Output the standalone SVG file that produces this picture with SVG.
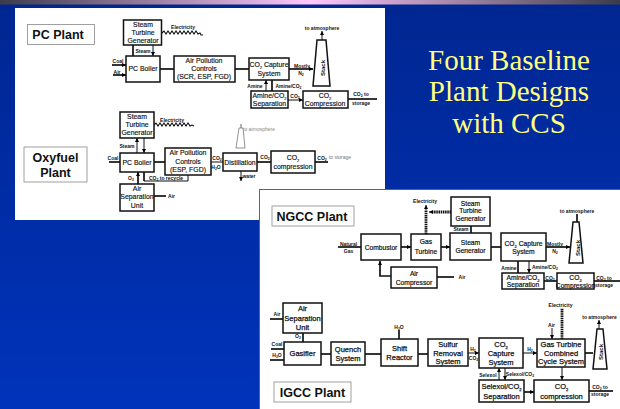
<svg xmlns="http://www.w3.org/2000/svg" width="620" height="409" viewBox="0 0 620 409">
<defs>
<linearGradient id="bg" x1="0" y1="0" x2="0" y2="1"><stop offset="0" stop-color="#002691"/><stop offset="1" stop-color="#0033bb"/></linearGradient>
<linearGradient id="strip" x1="0" y1="0" x2="1" y2="0"><stop offset="0" stop-color="#3b3b4a"/><stop offset="0.5" stop-color="#ffc8fa"/><stop offset="1" stop-color="#3b3b4a"/></linearGradient>
<marker id="a" markerWidth="5" markerHeight="5" refX="4" refY="2.5" orient="auto" markerUnits="userSpaceOnUse"><path d="M0 0.5L4 2.5L0 4.5z" fill="#000"/></marker>
</defs>
<style>
text{font-family:"Liberation Sans",Arial,sans-serif;fill:#111;text-anchor:middle}
.b{fill:#fff;stroke:#111;stroke-width:1.5}
.t{fill:#fff;stroke:#888;stroke-width:.8}
.s{font-size:6.9px;stroke:#111;stroke-width:.15}
.n{font-size:6.7px;stroke:#111;stroke-width:.2}
.i{font-size:7.5px;stroke:#111;stroke-width:.25}
.k5{font-size:6px;font-weight:bold}
.xs{font-size:5px;font-weight:bold}
.h{font-size:12.500px;font-weight:bold}
.c{fill:none;stroke:#111;stroke-width:1}
.k{fill:none;stroke:#111;stroke-width:1.7}
.w{fill:none;stroke:#111;stroke-width:1.1}
.d{fill:none;stroke:#111;stroke-width:2.800;stroke-dasharray:1.500 .7}
.y{font-family:"Liberation Serif","Times New Roman",serif;font-size:29px;fill:#ffff80}
</style>
<rect width="620" height="409" fill="url(#bg)"/>
<rect width="620" height="4.500" fill="url(#strip)"/>
<rect x="15" y="8" width="370" height="212" fill="#fff"/>
<rect x="259.500" y="189.500" width="361" height="220" fill="#fff" stroke="#3d62d8"/>

<g id="connectors">
<!-- PC -->
<path class="w" d="M162 33l2-2 2 3 2-3 2 3 2-3 2 3 2-3 2 3 2-3 2 3 2-3 2 3 2-3 2 3 2-3 2 3 2-3 2 3 2-1 1 2h2"/>
<path class="k" d="M133 45V56"/><path class="c" marker-end="url(#a)" d="M153 45V56"/>
<path class="k" marker-end="url(#a)" d="M112 65H126"/><path class="k" marker-end="url(#a)" d="M113 75H126"/>
<path class="k" d="M160 69H174"/><path class="k" d="M235 69H249"/>
<path class="k" marker-end="url(#a)" d="M289 69H313"/>
<path class="c" marker-end="url(#a)" d="M266 91V80"/><path class="k" d="M272 80V91"/>
<path class="c" marker-end="url(#a)" d="M288 100H303"/>
<path class="k" d="M348 99H377"/>
<path class="c" marker-end="url(#a)" d="M322 40V31"/>
<!-- Oxyfuel -->
<path class="w" d="M154 125l2-2 2 3 2-3 2 3 2-3 2 3 2-3 2 3 2-3 2 3 2-3 2 3 2-3 2 3 2-3 2 3 2-3 2 3 2 -1 2 1"/>
<path class="c" marker-end="url(#a)" d="M137 153V138"/><path class="c" marker-end="url(#a)" d="M144 138V153"/>
<path class="k" d="M109 162H120"/>
<path class="k" d="M154 162H165"/>
<path class="c" d="M211 162H223"/>
<path class="k" d="M257 162H271"/><path class="k" d="M315 162H328"/>
<path class="k" marker-end="url(#a)" d="M138 184V172"/>
<path class="k" d="M144 172V181"/><path class="c" d="M144 181H188V175"/>
<path class="k" d="M154 196H166"/>
<path class="c" marker-end="url(#a)" d="M241 171V181"/>
<path d="M241 148V124" fill="none" stroke="#555" stroke-width=".9"/>
<!-- NGCC -->
<path class="k" d="M338 247H361"/>
<path class="k" marker-end="url(#a)" d="M401 247H411"/><path class="k" marker-end="url(#a)" d="M441 247H450"/>
<path class="d" d="M426 234V210"/>
<path class="c" marker-end="url(#a)" d="M426 210V205"/>
<path class="d" d="M451 212H433"/>
<path class="c" marker-end="url(#a)" d="M433 212H429"/>
<path class="k" d="M471 226V233"/>
<path class="k" d="M491 247H501"/>
<path class="k" marker-end="url(#a)" d="M391 276H380V261"/>
<path class="k" d="M437 277H454"/>
<path class="k" marker-end="url(#a)" d="M546 247H570"/>
<path class="k" d="M518 261V273"/>
<path class="c" marker-end="url(#a)" d="M529 261V273"/>
<path class="k" d="M544 281H557"/>
<path class="k" d="M594 281H620"/>
<path class="k" d="M577 222V214"/>
<!-- IGCC -->
<path class="k" d="M270 319H283"/>
<path class="k" d="M303 333V342"/>
<path class="k" d="M271 349H284"/><path class="k" d="M270 360H284"/>
<path class="k" d="M321 354H331"/><path class="k" d="M365 354H381"/><path class="k" d="M418 354H428"/>
<path class="k" d="M399 339V330"/>
<path class="c" marker-end="url(#a)" d="M468 353H479"/>
<path class="c" marker-end="url(#a)" d="M523 353H537"/>
<path class="k" d="M585 353H593"/>
<path class="c" marker-end="url(#a)" d="M599 329V320"/>
<path class="c" marker-end="url(#a)" d="M499 380V368"/>
<path class="c" marker-end="url(#a)" d="M505 368V380"/>
<path class="k" marker-end="url(#a)" d="M524 392H534"/>
<path class="k" d="M589 391H613"/>
<path class="c" marker-end="url(#a)" d="M562 367V380"/>
<path class="c" marker-end="url(#a)" d="M552 328V339"/>
<path class="d" d="M562 339V308"/>
</g>

<g id="title"><text class="y" x="509" y="70">Four Baseline</text><text class="y" x="509" y="101">Plant Designs</text><text class="y" x="509" y="133">with CCS</text></g>

<g id="pc-label"><rect class="t" x="27.500" y="24.500" width="67" height="20"/><text class="h" x="58" y="38.500">PC Plant</text></g>
<g id="pc-stg"><rect class="b" x="123.500" y="20" width="38" height="25"/><text class="s" x="143" y="27">Steam</text><text class="s" x="143" y="35">Turbine</text><text class="s" x="143" y="43">Generator</text></g>
<g id="pc-boiler"><rect class="b" x="126" y="56" width="34" height="26"/><text class="s" x="143" y="71">PC Boiler</text></g>
<g id="pc-apc"><rect class="b" x="174" y="56" width="61" height="26"/><text class="s" x="204" y="63">Air Pollution</text><text class="s" x="204" y="71">Controls</text><text class="s" x="204" y="79">(SCR, ESP, FGD)</text></g>
<g id="pc-capture"><rect class="b" x="249" y="58" width="40" height="22"/><text class="s" x="269" y="67">CO<tspan dy="1.500" font-size="4">2</tspan><tspan dy="-1.500"> Capture</tspan></text><text class="s" x="269" y="76">System</text></g>
<g id="pc-stack"><path class="b" d="M317 40H326L330 86H313z"/><text class="k5" transform="translate(324.500 68) rotate(-90)">Stack</text></g>
<g id="pc-sep"><rect class="b" x="251" y="91" width="37" height="17"/><text class="s" x="269.500" y="98">Amine/CO<tspan dy="1.500" font-size="4">2</tspan></text><text class="s" x="269.500" y="106">Separation</text></g>
<g id="pc-comp"><rect class="b" x="303" y="91" width="45" height="17"/><text class="s" x="325" y="98">CO<tspan dy="1.500" font-size="4">2</tspan></text><text class="s" x="325" y="106">Compression</text></g>
<g id="pc-labels">
<text class="xs" x="183" y="29">Electricity</text>
<text class="xs" x="143" y="53">Steam</text><text class="xs" x="118" y="63">Coal</text><text class="xs" x="117" y="74">Air</text>
<text class="xs" x="302" y="68">Mostly</text><text class="xs" x="301" y="75">N<tspan dy="1" font-size="3.500">2</tspan></text>
<text class="xs" x="255" y="88">Amine</text><text class="xs" x="288.500" y="88">Amine/CO<tspan dy="1" font-size="3.500">2</tspan></text>
<text class="xs" x="295" y="98">CO<tspan dy="1" font-size="3.500">2</tspan></text>
<text class="xs" x="361" y="96">CO<tspan dy="1" font-size="3.500">2</tspan><tspan dy="-1"> to</tspan></text><text class="xs" x="361" y="104.500">storage</text>
<text class="xs" x="322" y="29.500">to atmosphere</text>
</g>

<g id="oxy-label"><rect class="t" x="24" y="147" width="63" height="35"/><text class="h" x="55.500" y="162">Oxyfuel</text><text class="h" x="55.500" y="177">Plant</text></g>
<g id="oxy-stg"><rect class="b" x="120" y="112" width="34" height="26"/><text class="s" x="137" y="119">Steam</text><text class="s" x="137" y="127">Turbine</text><text class="s" x="137" y="135">Generator</text></g>
<g id="oxy-boiler"><rect class="b" x="120" y="153" width="34" height="19"/><text class="s" x="137" y="165">PC Boiler</text></g>
<g id="oxy-apc"><rect class="b" x="165" y="148" width="46" height="27"/><text class="s" x="188" y="155">Air Pollution</text><text class="s" x="188" y="164">Controls</text><text class="s" x="188" y="172">(ESP, FGD)</text></g>
<g id="oxy-asu"><rect class="b" x="120" y="184" width="34" height="27"/><text class="s" x="137" y="191">Air</text><text class="s" x="137" y="199">Separation</text><text class="s" x="137" y="208">Unit</text></g>
<g id="oxy-dist"><rect class="b" x="223" y="153" width="34" height="18"/><text class="s" x="240" y="165">Distillation</text></g>
<g id="oxy-stack"><path d="M239 128H243L245 148H236z" fill="#fff" stroke="#777" stroke-width=".8"/></g>
<g id="oxy-comp"><rect class="b" x="271" y="151" width="44" height="22"/><text class="s" x="293" y="160">CO<tspan dy="1.500" font-size="4">2</tspan></text><text class="s" x="293" y="169">compression</text></g>
<g id="oxy-labels">
<text class="xs" x="172" y="122">Electricity</text>
<text class="xs" x="127" y="148">Steam</text><text class="xs" x="113" y="160">Coal</text>
<text class="xs" x="131" y="180">O<tspan dy="1" font-size="3.500">2</tspan></text>
<text class="xs" x="166" y="180">CO<tspan dy="1" font-size="3.500">2</tspan><tspan dy="-1"> to recycle</tspan></text>
<text class="xs" x="171.500" y="198">Air</text>
<text class="xs" x="217" y="160">CO<tspan dy="1" font-size="3.500">2</tspan></text><text class="xs" x="216" y="169">H<tspan dy="1" font-size="3.500">2</tspan><tspan dy="-1">O</tspan></text>
<text class="xs" x="265" y="159">CO<tspan dy="1" font-size="3.500">2</tspan></text>
<text class="xs" x="322" y="160">CO<tspan dy="1" font-size="3.500">2</tspan></text>
<text x="340" y="159" style="font-size:5px;fill:#777">to storage</text>
<text x="259" y="131" style="font-size:5px;fill:#888">to atmosphere</text>
<text class="xs" x="249" y="178">water</text>
</g>

<g id="ngcc-label"><rect class="t" x="272" y="206" width="82" height="20"/><text class="h" x="312" y="221">NGCC Plant</text></g>
<g id="ngcc-comb"><rect class="b" x="361" y="234" width="40" height="26"/><text class="n" x="381" y="250">Combustor</text></g>
<g id="ngcc-gt"><rect class="b" x="411" y="234" width="30" height="26"/><text class="n" x="426" y="244">Gas</text><text class="n" x="426" y="254">Turbine</text></g>
<g id="ngcc-sg"><rect class="b" x="450" y="233" width="41" height="27"/><text class="n" x="470.500" y="245">Steam</text><text class="n" x="470.500" y="253">Generator</text></g>
<g id="ngcc-stg"><rect class="b" x="451" y="197" width="39" height="29"/><text class="n" x="470.500" y="206">Steam</text><text class="n" x="470.500" y="213">Turbine</text><text class="n" x="470.500" y="221">Generator</text></g>
<g id="ngcc-ac"><rect class="b" x="391" y="267" width="46" height="21"/><text class="n" x="414" y="276">Air</text><text class="n" x="414" y="285">Compressor</text></g>
<g id="ngcc-capture"><rect class="b" x="501" y="233" width="45" height="28"/><text class="n" x="523.500" y="246">CO<tspan dy="1.500" font-size="4">2</tspan><tspan dy="-1.500"> Capture</tspan></text><text class="n" x="523.500" y="254">System</text></g>
<g id="ngcc-stack"><path class="b" d="M573 222H579L583 263H569z"/><text class="k5" transform="translate(579.500 248) rotate(-90)">Stack</text></g>
<g id="ngcc-sep"><rect class="b" x="502" y="273" width="42" height="16"/><text class="n" x="523" y="280">Amine/CO<tspan dy="1.500" font-size="4">2</tspan></text><text class="n" x="523" y="287">Separation</text></g>
<g id="ngcc-comp"><rect class="b" x="557" y="273" width="37" height="16"/><text class="n" x="575.500" y="280">CO<tspan dy="1.500" font-size="4">2</tspan></text><text class="n" x="575.500" y="287.500">Compression</text></g>
<g id="ngcc-labels">
<text class="xs" x="425" y="203">Electricity</text>
<text class="xs" x="348.500" y="245.500">Natural</text><text class="xs" x="348.500" y="252.500">Gas</text>
<text class="xs" x="461" y="231">Steam</text>
<text class="xs" x="462" y="279">Air</text>
<text class="xs" x="577" y="212.500">to atmosphere</text>
<text class="xs" x="555" y="246">Mostly</text><text class="xs" x="555" y="253">N<tspan dy="1" font-size="3.500">2</tspan></text>
<text class="xs" x="509" y="270">Amine</text><text class="xs" x="545" y="269">Amine/CO<tspan dy="1" font-size="3.500">2</tspan></text>
<text class="xs" x="550" y="280">CO<tspan dy="1" font-size="3.500">2</tspan></text>
<text class="xs" x="604" y="280">CO<tspan dy="1" font-size="3.500">2</tspan><tspan dy="-1"> to</tspan></text><text class="xs" x="604" y="286.500">storage</text>
</g>

<g id="igcc-asu"><rect class="b" x="283" y="303" width="39" height="30"/><text class="i" x="302.500" y="311">Air</text><text class="i" x="302.500" y="321">Separation</text><text class="i" x="302.500" y="330">Unit</text></g>
<g id="igcc-gasifier"><rect class="b" x="284" y="342" width="37" height="23"/><text class="i" x="302.500" y="356">Gasifier</text></g>
<g id="igcc-quench"><rect class="b" x="331" y="342" width="34" height="23"/><text class="i" x="348" y="352">Quench</text><text class="i" x="348" y="361">System</text></g>
<g id="igcc-shift"><rect class="b" x="381" y="339" width="37" height="27"/><text class="i" x="399.500" y="351">Shift</text><text class="i" x="399.500" y="360">Reactor</text></g>
<g id="igcc-sulfur"><rect class="b" x="428" y="339" width="40" height="27"/><text class="i" x="448" y="347">Sulfur</text><text class="i" x="448" y="355.500">Removal</text><text class="i" x="448" y="364">System</text></g>
<g id="igcc-capture"><rect class="b" x="479" y="338" width="44" height="30"/><text class="i" x="501" y="347">CO<tspan dy="1.500" font-size="4">2</tspan></text><text class="i" x="501" y="356">Capture</text><text class="i" x="501" y="365">System</text></g>
<g id="igcc-gt"><rect class="b" x="537" y="339" width="48" height="28"/><text class="i" x="561" y="347">Gas Turbine</text><text class="i" x="561" y="355.500">Combined</text><text class="i" x="561" y="364">Cycle System</text></g>
<g id="igcc-stack"><path class="b" d="M597 329H603L607 369H593z"/><text class="k5" transform="translate(602.500 352) rotate(-90)">Stack</text></g>
<g id="igcc-sep"><rect class="b" x="479" y="380" width="45" height="22"/><text class="i" x="501.500" y="389">Selexol/CO<tspan dy="1.500" font-size="4">2</tspan></text><text class="i" x="501.500" y="399">Separation</text></g>
<g id="igcc-comp"><rect class="b" x="534" y="380" width="55" height="22"/><text class="i" x="561.500" y="389">CO<tspan dy="1.500" font-size="4">2</tspan></text><text class="i" x="561.500" y="399">compression</text></g>
<g id="igcc-label"><rect class="t" x="274" y="382" width="77" height="20"/><text class="h" x="312.500" y="396.500">IGCC Plant</text></g>
<g id="igcc-labels">
<text class="xs" x="277" y="316">Air</text><text class="xs" x="298" y="338">O<tspan dy="1" font-size="3.500">2</tspan></text>
<text class="xs" x="277" y="346">Coal</text><text class="xs" x="277" y="357">H<tspan dy="1" font-size="3.500">2</tspan><tspan dy="-1">O</tspan></text>
<text class="xs" x="399" y="329">H<tspan dy="1" font-size="3.500">2</tspan><tspan dy="-1">O</tspan></text>
<text class="xs" x="473" y="351">H<tspan dy="1" font-size="3.500">2</tspan></text><text class="xs" x="473.500" y="360">CO<tspan dy="1" font-size="3.500">2</tspan></text>
<text class="xs" x="530" y="351">H<tspan dy="1" font-size="3.500">2</tspan></text>
<text class="xs" x="551.500" y="327">Air</text>
<text class="xs" x="560.500" y="307">Electricity</text>
<text class="xs" x="599.500" y="319">to atmosphere</text>
<text class="xs" x="488" y="376.500">Selexol</text><text class="xs" x="520" y="376">Selexol/CO<tspan dy="1" font-size="3.500">2</tspan></text>
<text class="xs" x="600" y="389">CO<tspan dy="1" font-size="3.500">2</tspan><tspan dy="-1"> to</tspan></text><text class="xs" x="600" y="395.500">storage</text>
</g>
</svg>
